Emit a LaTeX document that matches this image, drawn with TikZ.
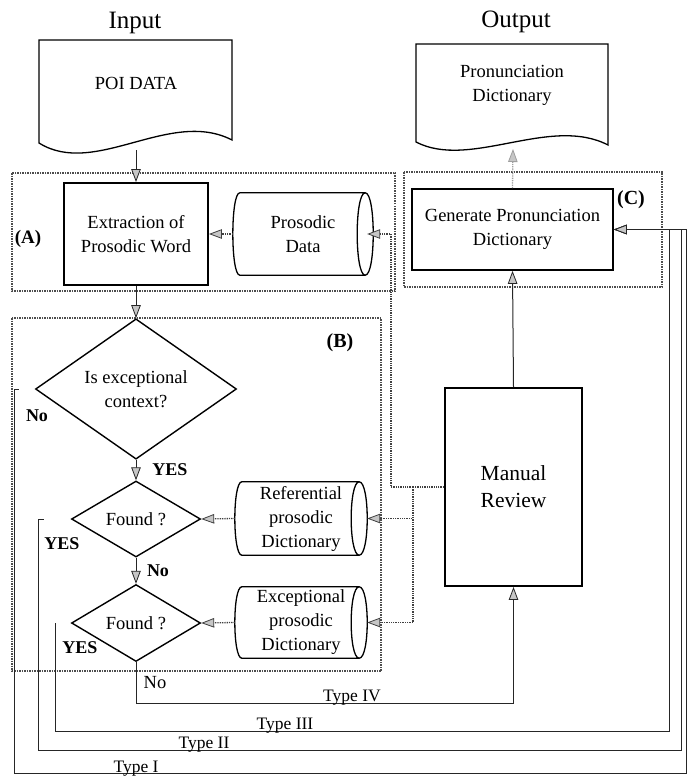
\documentclass[tikz,border=0pt]{standalone}
\usepackage{fontspec}
\setmainfont{Liberation Serif}
\usetikzlibrary{shapes.geometric,arrows.meta,calc}

% outline of a horizontal data store (cylinder lying on its side)
\newcommand\storeoutline[1]{%
  \draw[line width=1.3pt]
    ([xshift=7pt]#1.north west)
      .. controls ([xshift=-2.3pt]#1.north west) and ([xshift=-2.3pt]#1.south west) ..
    ([xshift=7pt]#1.south west) -- ([xshift=-8pt]#1.south east)
      .. controls ([xshift=2.7pt]#1.south east) and ([xshift=2.7pt]#1.north east) ..
    ([xshift=-8pt]#1.north east)
      .. controls ([xshift=-18.7pt]#1.north east) and ([xshift=-18.7pt]#1.south east) ..
    ([xshift=-8pt]#1.south east)
    ([xshift=-8pt]#1.north east) -- ([xshift=7pt]#1.north west);}

\tikzset{
  x=1pt, y=-1pt,
  txt/.style={font=\fontsize{18.5}{24}\selectfont, align=center, inner sep=0pt},
  title/.style={font=\fontsize{25}{27}\selectfont, inner sep=0pt},
  tag/.style={font=\bfseries\fontsize{18}{20}\selectfont, inner sep=0pt},
  typelbl/.style={font=\fontsize{17.5}{20}\selectfont, inner sep=0pt, anchor=base},
  tip/.style={-{Triangle[length=13pt,width=9.5pt,fill=gray!45,line width=0.8pt]}},
  conn/.style={line width=1pt, draw=black!85, tip},
  dotconn/.style={line width=1.3pt, densely dotted, draw=black!75, tip},
  frame/.style={line width=1.5pt, densely dotted, draw=black!70},
  docline/.style={line width=1.3pt, draw=black},
  procbox/.style={txt, draw, line width=1.9pt},
  decision/.style={txt, diamond, draw, line width=1.4pt},
  store/.style={txt},
}

\begin{document}
\begin{tikzpicture}
\useasboundingbox (0,0) rectangle (687,776);

% column headings
\node[title] (intitle) at (135,23) {Input};
\node[title] (outtitle) at (516,22) {Output};

% input and output documents
\node[txt] (poi) at (136,83) {POI DATA};
\draw[docline] (39,40) -- (232,40) -- (232,140)
  .. controls (170,108) and (95,178) .. (39,143) -- cycle;
\coordinate (poibot) at (136,150);

\node[txt] (dict) at (512,85) {Pronunciation\\Dictionary};
\draw[docline] (416,44) -- (608,44) -- (608,145)
  .. controls (550,115) and (470,170) .. (416,142) -- cycle;
\coordinate (dictbot) at (513,149);

% group frames
\draw[frame] (12,173) rectangle (395,291);
\draw[frame] (12,318) rectangle (381,671);
\draw[frame] (404,172) rectangle (662,287);
\node[tag, font=\bfseries\fontsize{19}{21}\selectfont] (ga) at (28,239) {(A)};
\node[tag, font=\bfseries\fontsize{20}{22}\selectfont] (gb) at (340,343) {(B)};
\node[tag, font=\bfseries\fontsize{20}{22}\selectfont] (gc) at (631,200) {(C)};

% process boxes
\node[procbox, minimum width=144, minimum height=102] (ext) at (136,234) {Extraction of\\Prosodic Word};
\node[procbox, minimum width=201, minimum height=81, line width=1.7pt] (gen) at (512.5,229.5) {Generate Pronunciation\\Dictionary};
\node[procbox, minimum width=137, minimum height=198, font=\fontsize{21.5}{27}\selectfont] (mr) at (513.5,487) {Manual\\Review};

% data stores
\node[store, minimum width=140, minimum height=82] (pd) at (303,234) {Prosodic\\Data};
\storeoutline{pd}
\node[store, minimum width=132, minimum height=73] (ref) at (301,518.5) {Referential\\prosodic\\Dictionary};
\storeoutline{ref}
\node[store, minimum width=132, minimum height=71] (exc) at (301,622.5) {Exceptional\\prosodic\\Dictionary};
\storeoutline{exc}

% decisions
\node[decision, minimum width=201, minimum height=120] (d1) at (136,389) {Is exceptional\\context?};
\node[decision, minimum width=129, minimum height=76] (d2) at (136,519) {Found ?};
\node[decision, minimum width=129, minimum height=77] (d3) at (136,623) {Found ?};

% main flow
\draw[conn] (poibot) -- (ext.north);
\draw[conn] (ext.south) -- (d1.north);
\draw[conn] (d1.south) -- (d2.north);
\draw[conn] (d2.south) -- (d3.north);
\draw[conn] (mr.north) -- (gen.south);
\draw[dotconn, draw=gray!75] (gen.north) -- (dictbot);

% lookups from the stores
\draw[dotconn] (pd.west) -- (ext.east);
\draw[dotconn] (ref.west) -- (d2.east);
\draw[dotconn] (exc.west) -- (d3.east);

% feedback from manual review into the stores
\draw[dotconn, -] (mr.west) -- ++(-31,0) coordinate (fork);
\draw[dotconn] (fork) |- (ref.east);
\draw[dotconn] (fork) |- (exc.east);
\draw[dotconn] (fork) -- ++(-22,0) |- ([xshift=-6pt]pd.east);

% result rails into the dictionary generator
\coordinate (railI) at (686,773);
\coordinate (railII) at (681,750);
\coordinate (railIII) at (669,731);
\draw[conn] ([xshift=-16pt]d1.west) -- ++(-4,0) |- (railI) |- (gen.east);
\draw[conn] ([xshift=-27pt]d2.west) -- ++(-5,0) |- (railII) |- (gen.east);
\draw[conn] ([xshift=-15pt]d3.west) |- (railIII) |- (gen.east);
\draw[conn] (d3.south) -- ++(0,41) -| (mr.south);

% branch labels
\node[tag] (yes1) at (170,470) {YES};
\node[tag] (no1) at (37,416) {No};
\node[tag] (no2) at (158,571) {No};
\node[tag] (yes2) at (62,544) {YES};
\node[tag] (yes3) at (80,648) {YES};
\node[txt] (no3) at (155,683) {No};

\node[typelbl] (t4) at (352,701) {Type IV};
\node[typelbl] (t3) at (285,729) {Type III};
\node[typelbl] (t2) at (204,748) {Type II};
\node[typelbl] (t1) at (136,772) {Type I};
\end{tikzpicture}
\end{document}
